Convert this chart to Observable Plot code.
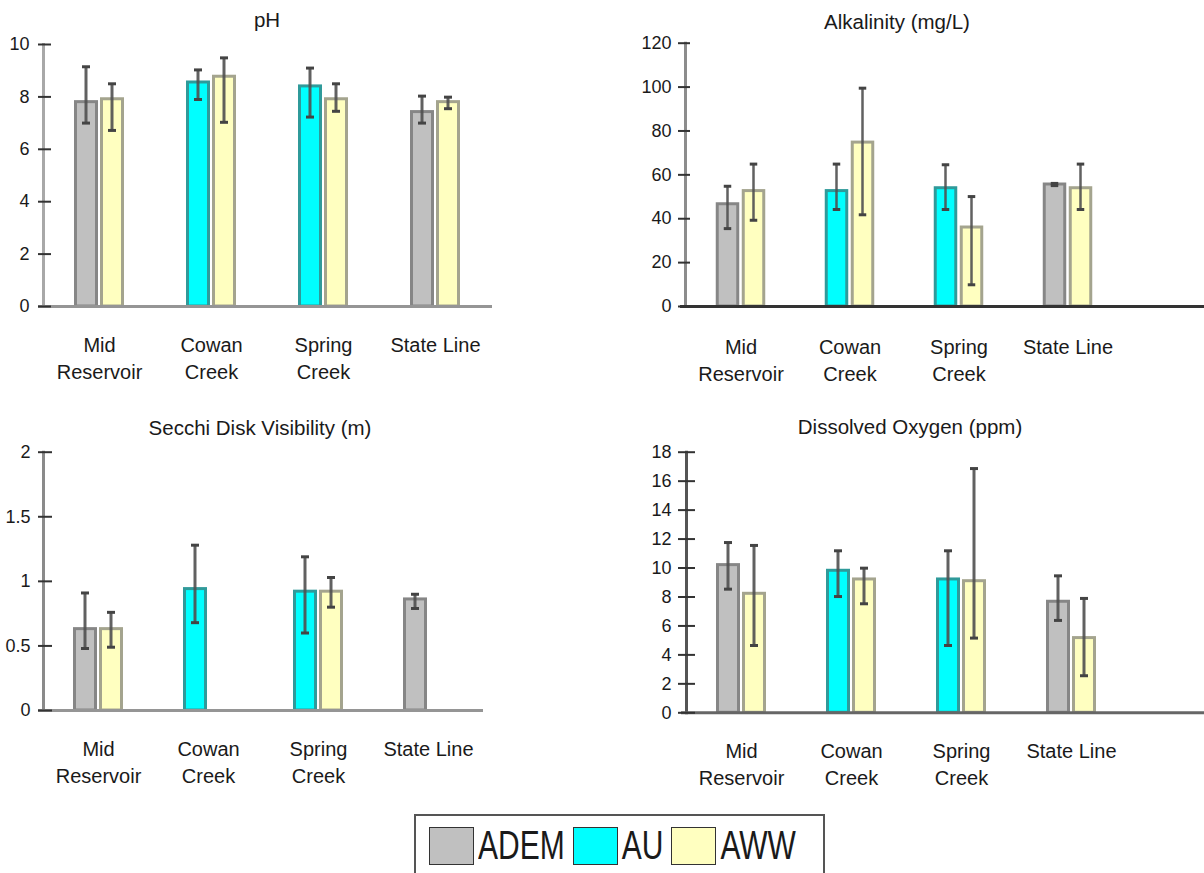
<!DOCTYPE html>
<html>
<head>
<meta charset="utf-8">
<script src="https://cdn.jsdelivr.net/npm/d3@7"></script>
<script src="https://cdn.jsdelivr.net/npm/@observablehq/plot@0.6"></script>
<style>
  body { margin: 0; background: #fff; font-family: "Liberation Sans", Arial, sans-serif; }
  #root { position: relative; width: 1204px; height: 873px; overflow: hidden; background: #fff; }
  .title { position: absolute; font-size: 20.5px; color: #1a1a1a; transform: translate(-50%, -50%); white-space: nowrap; }
  .panel { position: absolute; }
  .legend { position: absolute; left: 414px; top: 814px; width: 411px; height: 80px; border: 2px solid #555;
            display: flex; align-items: flex-start; padding-left: 13px; padding-top: 11px; box-sizing: border-box; }
  .item { display: flex; align-items: center; margin-right: 8px; }
  .swatch { width: 43px; height: 36px; border: 1.5px solid #333; margin-right: 4px; }
  .lab { font-size: 30px; color: #1a1a1a; display: inline-block; transform: scaleY(1.35); line-height: 38px; }
</style>
</head>
<body>
<div id="root"></div>
<script>
// ---------- data ----------
const sites = ["Mid Reservoir", "Cowan Creek", "Spring Creek", "State Line"];
const siteLabels = ["Mid\nReservoir", "Cowan\nCreek", "Spring\nCreek", "State Line"];
const firstSeries = ["ADEM", "AU", "AU", "ADEM"];   // left bar of each site
const secondSeries = "AWW";                         // right bar of each site
const seriesNames = ["ADEM", "AU", "AWW"];
const seriesFills = ["#C0C0C0", "#00FFFF", "#FFFFC0"];
const seriesStrokes = ["#868686", "#2f9a9a", "#a4a48e"];

// pH
const phTitle = "pH";
const phFirst = [7.8, 8.55, 8.4, 7.42];
const phFirstLo = [7.0, 7.9, 7.23, 7.0];
const phFirstHi = [9.15, 9.03, 9.1, 8.03];
const phAww = [7.91, 8.77, 7.91, 7.8];
const phAwwLo = [6.72, 7.03, 7.45, 7.55];
const phAwwHi = [8.5, 9.49, 8.5, 7.99];
const phTicks = [0, 2, 4, 6, 8, 10];

// Alkalinity
const alkTitle = "Alkalinity (mg/L)";
const alkFirst = [46.6, 52.6, 53.9, 55.6];
const alkFirstLo = [35.5, 44.2, 44.2, 55.1];
const alkFirstHi = [54.8, 64.9, 64.6, 56.1];
const alkAww = [52.6, 74.7, 36.0, 53.9];
const alkAwwLo = [39.3, 41.8, 9.9, 44.2];
const alkAwwHi = [64.9, 99.5, 50.1, 64.9];
const alkTicks = [0, 20, 40, 60, 80, 100, 120];

// Secchi disk
const secTitle = "Secchi Disk Visibility (m)";
const secFirst = [0.63, 0.94, 0.92, 0.86];
const secFirstLo = [0.48, 0.68, 0.60, 0.79];
const secFirstHi = [0.91, 1.28, 1.19, 0.90];
const secAww = [0.63, null, 0.92, null];
const secAwwLo = [0.49, null, 0.80, null];
const secAwwHi = [0.76, null, 1.03, null];
const secTicks = [0, 0.5, 1, 1.5, 2];

// Dissolved oxygen
const doTitle = "Dissolved Oxygen (ppm)";
const doFirst = [10.2, 9.81, 9.21, 7.67];
const doFirstLo = [8.54, 8.03, 4.65, 6.38];
const doFirstHi = [11.76, 11.19, 11.19, 9.46];
const doAww = [8.22, 9.21, 9.09, 5.16];
const doAwwLo = [4.65, 7.53, 5.16, 2.56];
const doAwwHi = [11.56, 9.99, 16.87, 7.9];
const doTicks = [0, 2, 4, 6, 8, 10, 12, 14, 16, 18];

// ---------- build ----------
function rowsFor(first, firstLo, firstHi, aww, awwLo, awwHi) {
  const rows = [];
  sites.forEach((s, i) => {
    if (first[i] != null) rows.push({site: s, series: firstSeries[i], slot: 1, value: first[i], lo: firstLo[i], hi: firstHi[i]});
    if (aww[i] != null) rows.push({site: s, series: secondSeries, slot: 2, value: aww[i], lo: awwLo[i], hi: awwHi[i]});
  });
  return rows;
}

const root = document.getElementById("root");

function makePanel(title, rows, ticks, L) {
  const bw = (L.x1 - L.x0) / sites.length;
  const slotCenter = {1: bw / 2 - 13, 2: bw / 2 + 13};
  const span = (c, h) => ({insetLeft: c - h, insetRight: bw - c - h});
  const marks = [Plot.frame({anchor: "left", stroke: L.axisColor, strokeWidth: 3})];
  for (const slot of [1, 2]) {
    seriesNames.forEach((s, k) => {
      const sub = rows.filter(d => d.slot === slot && d.series === s);
      if (!sub.length) return;
      marks.push(Plot.barY(sub, {x: "site", y: "value", fill: "series", stroke: seriesStrokes[k], strokeWidth: 3,
        ...span(slotCenter[slot], 10.5)}));
    });
  }
  for (const slot of [1, 2]) {
    const sub = rows.filter(d => d.slot === slot);
    marks.push(Plot.barY(sub, {x: "site", y1: "lo", y2: "hi", fill: "#505050", fillOpacity: 0.9, ...span(slotCenter[slot], 1.5)}));
    marks.push(Plot.tickY(sub, {x: "site", y: "hi", stroke: "#444", strokeWidth: 3, ...span(slotCenter[slot], 4)}));
    marks.push(Plot.tickY(sub, {x: "site", y: "lo", stroke: "#444", strokeWidth: 3, ...span(slotCenter[slot], 4)}));
  }
  marks.push(Plot.ruleY([0], {stroke: L.baseColor, strokeWidth: 3, insetLeft: -5}));
  marks.push(Plot.axisY({ticks, tickSize: L.tickSize, tickPadding: L.tickPadding, dx: L.tickDx, label: null,
    tickFormat: d => String(d), fontSize: 18, stroke: "#333", strokeWidth: 2}));
  marks.push(Plot.axisX({tickSize: 0, tickPadding: L.labelPad, label: null, fontSize: 20, lineHeight: 1.35,
    tickFormat: d => siteLabels[sites.indexOf(d)]}));

  const chart = Plot.plot({
    width: L.width, height: L.height,
    marginLeft: L.x0, marginRight: L.width - L.baseRight,
    marginTop: L.yTop, marginBottom: L.height - L.yBottom,
    x: {type: "band", domain: sites, range: [L.x0, L.x1], padding: 0},
    y: {domain: [0, ticks[ticks.length - 1]]},
    color: {domain: seriesNames, range: seriesFills},
    style: {fontFamily: '"Liberation Sans", Arial, sans-serif', color: "#1a1a1a", background: "transparent", overflow: "visible"},
    marks
  });
  const wrap = document.createElement("div");
  wrap.className = "panel";
  wrap.style.left = L.left + "px";
  wrap.style.top = L.top + "px";
  wrap.appendChild(chart);
  root.appendChild(wrap);

  const t = document.createElement("div");
  t.className = "title";
  t.textContent = title;
  t.style.left = L.tx + "px";
  t.style.top = L.ty + "px";
  root.appendChild(t);
}

makePanel(phTitle, rowsFor(phFirst, phFirstLo, phFirstHi, phAww, phAwwLo, phAwwHi), phTicks,
  {left: 0, top: 30, width: 600, height: 360, x0: 43, x1: 491, baseRight: 492, yTop: 14, yBottom: 276,
   tickDx: 8, tickSize: 13, tickPadding: 9, labelPad: 26, axisColor: "#a8a8a8", baseColor: "#959595", tx: 267, ty: 20});

makePanel(alkTitle, rowsFor(alkFirst, alkFirstLo, alkFirstHi, alkAww, alkAwwLo, alkAwwHi), alkTicks,
  {left: 600, top: 30, width: 604, height: 360, x0: 85, x1: 523, baseRight: 604, yTop: 12.7, yBottom: 276,
   tickDx: 5, tickSize: 12, tickPadding: 7, labelPad: 28, axisColor: "#8c8c8c", baseColor: "#333", tx: 897, ty: 22});

makePanel(secTitle, rowsFor(secFirst, secFirstLo, secFirstHi, secAww, secAwwLo, secAwwHi), secTicks,
  {left: 0, top: 430, width: 600, height: 360, x0: 43, x1: 483, baseRight: 483, yTop: 21.7, yBottom: 280,
   tickDx: 9, tickSize: 14, tickPadding: 8, labelPad: 26, axisColor: "#8a8a8a", baseColor: "#959595", tx: 260, ty: 428});

makePanel(doTitle, rowsFor(doFirst, doFirstLo, doFirstHi, doAww, doAwwLo, doAwwHi), doTicks,
  {left: 600, top: 430, width: 604, height: 360, x0: 86, x1: 526, baseRight: 604, yTop: 21.7, yBottom: 282.3,
   tickDx: 9, tickSize: 17, tickPadding: 7, labelPad: 26, axisColor: "#555", baseColor: "#666", tx: 910, ty: 427});

// ---------- legend ----------
const legend = document.createElement("div");
legend.className = "legend";
seriesNames.forEach((s, k) => {
  const it = document.createElement("div");
  it.className = "item";
  const sw = document.createElement("div");
  sw.className = "swatch";
  sw.style.background = seriesFills[k];
  const lab = document.createElement("span");
  lab.className = "lab";
  lab.textContent = s;
  it.appendChild(sw);
  it.appendChild(lab);
  legend.appendChild(it);
});
root.appendChild(legend);
</script>
</body>
</html>
